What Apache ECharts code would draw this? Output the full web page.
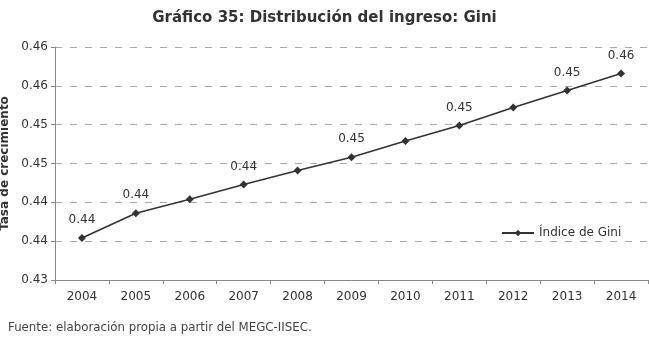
<!DOCTYPE html>
<html>
<head>
<meta charset="utf-8">
<title>Distribución del ingreso: Gini</title>
<script src="https://cdn.jsdelivr.net/npm/echarts@6/dist/echarts.min.js"></script>
<style>
    html, body { margin: 0; padding: 0; background: #fff; }
    #chart { width: 649px; height: 338px; }
</style>
</head>
<body>
<div id="chart"></div>
<script>
// Años y valores del índice de Gini
const years = ['2004', '2005', '2006', '2007', '2008', '2009', '2010', '2011', '2012', '2013', '2014'];
const giniValues = [0.4354, 0.4386, 0.4404, 0.4423, 0.4441, 0.4458, 0.4479, 0.4499, 0.4522, 0.4544, 0.4566];
// Años cuyo valor aparece rotulado sobre el punto
const labeledYears = ['2004', '2005', '2007', '2009', '2011', '2013', '2014'];

const fontFamily = '"DejaVu Sans", "Open Sans", sans-serif';
const textColor = '#333';
const axisColor = '#888';

// redondeo a dos decimales "a la Excel" (0.435 -> 0.44)
const round2 = (v) => (Math.round(Math.round(v * 1000) / 10) / 100).toFixed(2);

const chart = echarts.init(document.getElementById('chart'));

const seriesData = giniValues.map((v, i) => ({
    value: v,
    label: { show: labeledYears.includes(years[i]) }
}));

chart.setOption({
    backgroundColor: '#fff',
    animation: false,
    textStyle: { fontFamily: fontFamily, color: textColor },
    title: [
        {
            text: 'Gráfico 35: Distribución del ingreso: Gini',
            left: 'center',
            top: 6,
            textStyle: { fontSize: 15, fontWeight: 'bold', color: '#333', fontFamily: fontFamily }
        },
        {
            text: 'Fuente: elaboración propia a partir del MEGC-IISEC.',
            left: 3,
            top: 317,
            textStyle: { fontSize: 11.8, fontWeight: 'normal', color: '#444', fontFamily: fontFamily }
        }
    ],
    legend: {
        data: ['Índice de Gini'],
        left: 496,
        top: 222,
        itemWidth: 32,
        itemHeight: 8,
        itemGap: 4,
        textStyle: { fontSize: 12, color: textColor, fontFamily: fontFamily }
    },
    grid: {
        left: 55,
        right: 1,
        top: 47,
        bottom: 58,
        containLabel: false,
        outerBoundsMode: 'none'
    },
    xAxis: {
        type: 'category',
        data: years,
        boundaryGap: true,
        axisLine: { lineStyle: { color: axisColor, width: 1 } },
        axisTick: { show: true, alignWithLabel: false, length: 4, lineStyle: { color: axisColor } },
        axisLabel: { color: textColor, fontSize: 12, margin: 11, fontFamily: fontFamily },
        splitLine: { show: false }
    },
    yAxis: {
        type: 'value',
        name: 'Tasa de crecimiento',
        nameLocation: 'middle',
        nameGap: 44,
        nameTextStyle: { fontSize: 12, fontWeight: 'bold', color: '#333', fontFamily: fontFamily },
        min: 0.43,
        max: 0.46,
        interval: 0.005,
        axisLine: { show: true, lineStyle: { color: axisColor, width: 1 } },
        axisTick: { show: true, length: 4, lineStyle: { color: axisColor } },
        axisLabel: {
            color: textColor,
            fontSize: 12,
            margin: 7,
            fontFamily: fontFamily,
            formatter: (v) => round2(v)
        },
        splitLine: { lineStyle: { color: '#aaa', type: [7, 8], width: 1 } }
    },
    series: [
        {
            name: 'Índice de Gini',
            type: 'line',
            data: seriesData,
            symbol: 'diamond',
            symbolSize: 8,
            lineStyle: { color: '#333', width: 1.6 },
            itemStyle: { color: '#333' },
            label: {
                position: 'top',
                distance: 8,
                color: textColor,
                fontSize: 12,
                fontFamily: fontFamily,
                formatter: (p) => round2(p.value)
            }
        }
    ]
});
</script>
</body>
</html>
